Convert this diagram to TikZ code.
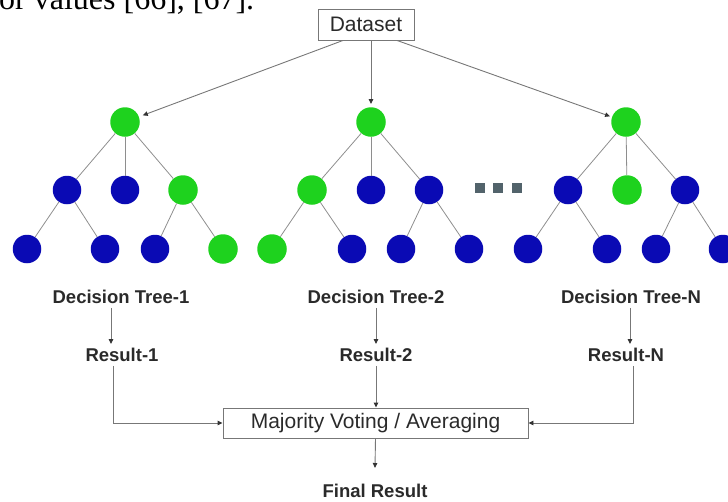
\documentclass[tikz,border=0pt]{standalone}
\usepackage{fontspec}
\setmainfont{Liberation Sans}
\newfontfamily\bodyserif{Liberation Serif}
\usetikzlibrary{arrows.meta}

\definecolor{treegreen}{HTML}{1ED21E}
\definecolor{treeblue}{HTML}{0A0AB4}
\definecolor{edgegray}{HTML}{8E8E8E}
\definecolor{linegray}{HTML}{777777}
\definecolor{labelgray}{HTML}{2A2A2A}
\definecolor{dotgray}{HTML}{52636B}
\definecolor{tipgray}{HTML}{333333}

\begin{document}
\begin{tikzpicture}[x=1pt,y=-1pt,
  gnode/.style={circle, fill=treegreen, minimum size=29.5pt, inner sep=0pt},
  bnode/.style={circle, fill=treeblue, minimum size=28.5pt, inner sep=0pt},
  tedge/.style={draw=edgegray, line width=0.8pt},
  arr/.style={draw=linegray, line width=0.9pt,
    -{Triangle[length=5pt,width=4.5pt,color=tipgray,fill=tipgray]}},
  boxed/.style={draw=linegray, line width=0.9pt, inner sep=0pt,
    font=\fontsize{21}{24}\selectfont, text=labelgray},
  blabel/.style={font=\bfseries\fontsize{18.5}{22}\selectfont, text=labelgray,
    inner sep=4pt},
  dotsq/.style={fill=dotgray, minimum size=10pt, inner sep=0pt}
]
\useasboundingbox (0,0) rectangle (728,501);
\clip (0,0) rectangle (728,501);

% running text of the page above the figure
\node[anchor=base west, inner sep=0pt,
  font=\bodyserif\fontsize{32}{32}\selectfont] (pagetext) at (-1,9.5)
  {or values [66], [67].};

% input data
\node[boxed, minimum width=96pt, minimum height=31pt] (ds) at (366,24.5) {Dataset};

% tree 1
\node[gnode] (r1) at (125,122) {};
\node[bnode] (a1) at (67,190) {};
\node[bnode] (b1) at (125,190) {};
\node[gnode] (c1) at (183,190) {};
\node[bnode] (a1l) at (27,249) {};
\node[bnode] (a1r) at (105,249) {};
\node[bnode] (c1l) at (155,249) {};
\node[gnode] (c1r) at (223,249) {};

% tree 2
\node[gnode] (r2) at (371,122) {};
\node[gnode] (a2) at (312,190) {};
\node[bnode] (b2) at (371,190) {};
\node[bnode] (c2) at (429,190) {};
\node[gnode] (a2l) at (272,249) {};
\node[bnode] (a2r) at (352,249) {};
\node[bnode] (c2l) at (401,249) {};
\node[bnode] (c2r) at (469,249) {};

% tree N
\node[gnode] (r3) at (626,122) {};
\node[bnode] (a3) at (568,190) {};
\node[gnode] (b3) at (627,190) {};
\node[bnode] (c3) at (685,190) {};
\node[bnode] (a3l) at (528,249) {};
\node[bnode] (a3r) at (607,249) {};
\node[bnode] (c3l) at (656,249) {};
\node[bnode] (c3r) at (723,249) {};

% tree edges, border to border
\foreach \r/\a/\b/\c in {r1/a1/b1/c1, r2/a2/b2/c2, r3/a3/b3/c3}{
  \draw[tedge] (\r) -- (\a);
  \draw[tedge] (\r) -- (\b);
  \draw[tedge] (\r) -- (\c);
}
\foreach \p/\q in {a1/a1l, a1/a1r, c1/c1l, c1/c1r,
                   a2/a2l, a2/a2r, c2/c2l, c2/c2r,
                   a3/a3l, a3/a3r, c3/c3l, c3/c3r}{
  \draw[tedge] (\p) -- (\q);
}

% ellipsis between tree 2 and tree N
\node[dotsq] (e1) at (480,188) {};
\node[dotsq] (e2) at (498,188) {};
\node[dotsq] (e3) at (517,188) {};

% dataset to trees
\draw[arr, shorten >=4pt] ([xshift=-23pt]ds.south) -- (r1);
\draw[arr, shorten >=3pt] (ds.south -| r2) -- (r2);
\draw[arr, shorten >=2pt] ([xshift=31pt]ds.south) -- (r3);

% tree labels and results
\node[blabel] (t1) at (121,297) {Decision Tree-1};
\node[blabel] (t2) at (376,297) {Decision Tree-2};
\node[blabel] (t3) at (631,297) {Decision Tree-N};

\node[blabel] (res1) at (122,355) {Result-1};
\node[blabel] (res2) at (376,355) {Result-2};
\node[blabel] (res3) at (626,355) {Result-N};

\draw[arr] ([xshift=-10pt]t1.south) -- ([xshift=-11pt]res1.north);
\draw[arr] (t2.south) -- (res2.north);
\draw[arr] ([xshift=-1pt]t3.south) -- ([xshift=4pt]res3.north);

% aggregation
\node[boxed, minimum width=305pt, minimum height=30pt] (mv) at (375.5,423)
  {Majority Voting / Averaging};

\draw[arr] ([xshift=-9pt]res1.south) |- (mv.west);
\draw[arr] (res2.south) -- (res2.south |- mv.north);
\draw[arr] ([xshift=7pt]res3.south) |- (mv.east);

\node[blabel] (fin) at (375,491) {Final Result};
\draw[arr] (mv.south) -- ([yshift=12pt]fin.north);

\end{tikzpicture}
\end{document}
